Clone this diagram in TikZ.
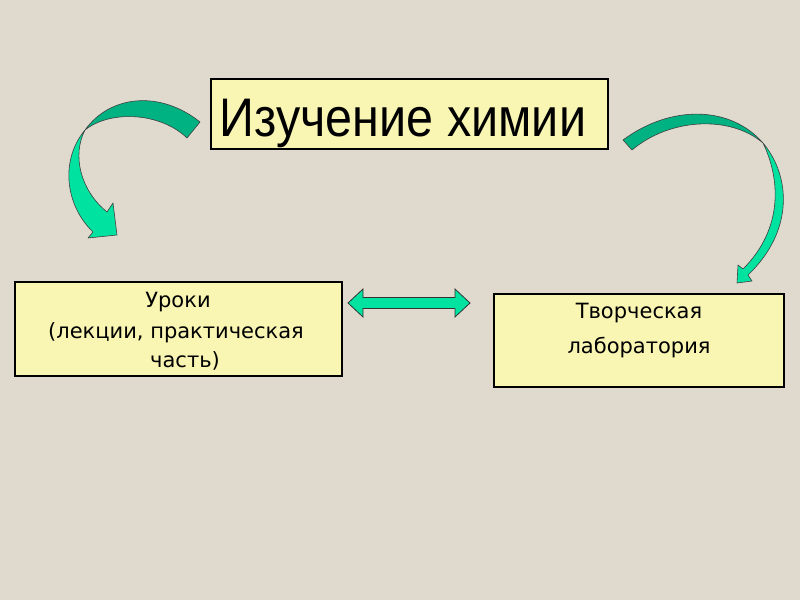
\documentclass[tikz,border=0pt]{standalone}
\usepackage{fontspec}
\setmainfont{Liberation Sans}
\newfontfamily\boxfont{DejaVu Sans}
\usetikzlibrary{calc}
\definecolor{bgcol}{RGB}{224,218,206}
\definecolor{boxfill}{RGB}{249,245,178}
\definecolor{arrdark}{RGB}{0,178,130}
\definecolor{arrlight}{RGB}{0,226,160}
\tikzset{
  box/.style={draw=black, line width=2pt, fill=boxfill, inner sep=0pt},
  ribbon/.style={draw=black!75, line width=0.6pt, line join=round},
  small/.style={font=\boxfont\fontsize{21}{21}\selectfont, inner sep=0pt, anchor=base},
}
\begin{document}
\begin{tikzpicture}[x=1pt,y=-1pt]
\fill[bgcol] (0,0) rectangle (800,600);
\useasboundingbox (0,0) rectangle (800,600);

% boxes
\node[box, minimum width=397pt, minimum height=70pt] (title) at (409,114) {};
\node[inner sep=0pt, anchor=base, font=\fontsize{48.5}{48.5}\selectfont] (titletext) at (403,136) {\scalebox{1}[1.12]{Изучение химии}};

\node[box, minimum width=327pt, minimum height=94pt] (lessons) at (178,329) {};
\node[small] (les1) at (178,307) {Уроки};
\node[small] (les2) at (176,338) {(лекции, практическая};
\node[small] (les3) at (185,367) {часть)};

\node[box, minimum width=290pt, minimum height=93pt] (lab) at (639,340) {};
\node[small] (lab1) at (639,318) {Творческая};
\node[small] (lab2) at (639,353) {лаборатория};

% double arrow
\coordinate (dl) at (348,303);
\coordinate (dr) at (470,303);
\fill[arrlight, draw=black!80, line width=0.8pt, line join=miter]
  (dl) -- ++(15,-14) -- ++(0,8.5) -- ($(dr)+(-15,-5.5)$) -- ++(0,-8.5) -- (dr)
  -- ++(-15,14) -- ++(0,-8.5) -- ($(dl)+(15,5.5)$) -- ++(0,8.5) -- cycle;

% left curved arrow: upper part
\filldraw[ribbon, fill=arrdark]
  (200,122) .. controls (160,90) and (110,95) .. (85,130)
  .. controls (110,110) and (160,112) .. (187,138) -- cycle;
% left curved arrow: lower part
\filldraw[ribbon, fill=arrlight]
  (85,130) .. controls (60,160) and (65,205) .. (93,232)
  -- (88,238) -- (117,235) -- (113,203) -- (107,212)
  .. controls (80,190) and (72,155) .. (85,130) -- cycle;

% right curved arrow: upper part
\filldraw[ribbon, fill=arrdark]
  (623,140) .. controls (670,105) and (730,105) .. (763,143)
  .. controls (730,115) and (670,118) .. (632,150) -- cycle;
% right curved arrow: lower part
\filldraw[ribbon, fill=arrlight]
  (763,143) .. controls (790,175) and (795,230) .. (748,275)
  -- (752,281) -- (737,283) -- (738,265) -- (743,269)
  .. controls (784,228) and (780,178) .. (763,143) -- cycle;
\end{tikzpicture}
\end{document}
